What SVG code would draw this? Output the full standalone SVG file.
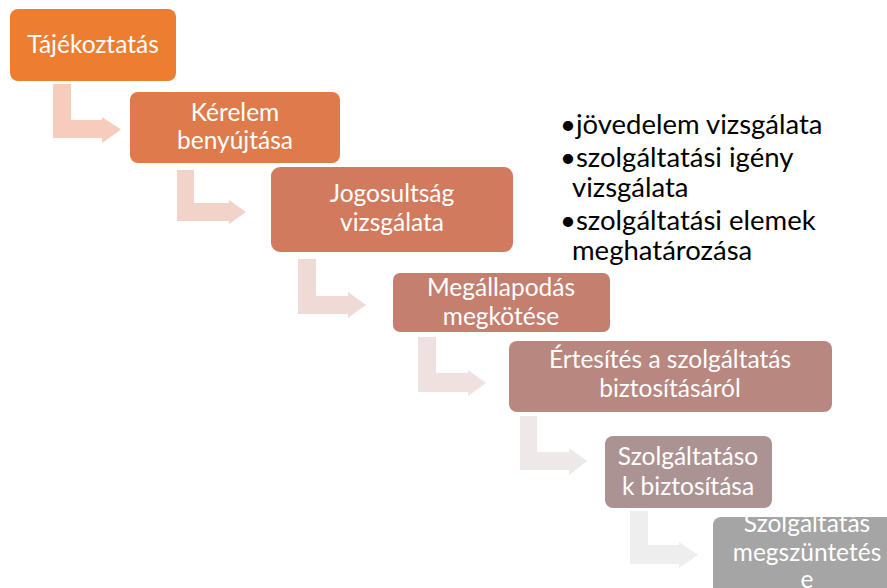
<svg xmlns="http://www.w3.org/2000/svg" width="887" height="588" viewBox="0 0 887 588">
<style>
.lbl{font-family:Lato,"Liberation Sans",sans-serif;font-size:24.5px;fill:#fff;text-anchor:middle}
.bul{font-family:Lato,"Liberation Sans",sans-serif;font-size:27.5px;fill:#000}
</style>
<defs>
<clipPath id="c7"><rect x="713" y="517" width="190" height="80" rx="8"/></clipPath>
</defs>
<rect width="887" height="588" fill="#fff"/>
<g id="connectors">
<path d="M53,84H71V120H102V117L121,129.5L102,143V138H53Z" fill="#F6CCBD"/>
<path d="M177,170H194V203H229V200L246,212L229,224V221H177Z" fill="#F2D3C9"/>
<path d="M298,259H316V296H348V292L366,305L348,318V314H298Z" fill="#F0DAD5"/>
<path d="M418,337H436V373H468V370L486,383L468,396V392H418Z" fill="#EFE1DF"/>
<path d="M520,416H537V452H569V448L587,461L569,475V470H520Z" fill="#EEE8E8"/>
<path d="M630,511H648V545H679V542L698,555L679,568V564H630Z" fill="#EEEEEE"/>
</g>
<g id="n1">
<rect x="10" y="9" width="166" height="72" rx="8" fill="#ED7D31"/>
<text class="lbl" x="93" y="53">Tájékoztatás</text>
</g>
<g id="n2">
<rect x="130" y="92" width="210" height="71" rx="8" fill="#DF7B4A"/>
<text class="lbl" x="235" y="121">Kérelem</text>
<text class="lbl" x="235" y="149">benyújtása</text>
</g>
<g id="n3">
<rect x="271" y="167" width="242" height="85" rx="9" fill="#D27A5D"/>
<text class="lbl" x="392" y="202">Jogosultság</text>
<text class="lbl" x="392" y="231">vizsgálata</text>
</g>
<g id="n4">
<rect x="393" y="273" width="217" height="59" rx="7" fill="#C47F6F"/>
<text class="lbl" x="501" y="296">Megállapodás</text>
<text class="lbl" x="501" y="325">megkötése</text>
</g>
<g id="n5">
<rect x="509" y="341" width="323" height="71" rx="8" fill="#B8877F"/>
<text class="lbl" x="670" y="368">Értesítés a szolgáltatás</text>
<text class="lbl" x="670" y="397">biztosításáról</text>
</g>
<g id="n6">
<rect x="605" y="436" width="167" height="72" rx="8" fill="#AC9393"/>
<text class="lbl" x="688" y="465">Szolgáltatáso</text>
<text class="lbl" x="688" y="495">k biztosítása</text>
</g>
<g id="n7">
<rect x="713" y="517" width="190" height="80" rx="8" fill="#A5A5A5"/>
<g clip-path="url(#c7)">
<text class="lbl" x="807" y="532">Szolgáltatás</text>
<text class="lbl" x="807" y="561">megszüntetés</text>
<text class="lbl" x="807" y="588">e</text>
</g>
</g>
<g id="notes">
<text class="bul" x="560" y="134">•jövedelem vizsgálata</text>
<text class="bul" x="560" y="167">•szolgáltatási igény</text>
<text class="bul" x="572" y="197">vizsgálata</text>
<text class="bul" x="560" y="230">•szolgáltatási elemek</text>
<text class="bul" x="572" y="260">meghatározása</text>
</g>
</svg>
